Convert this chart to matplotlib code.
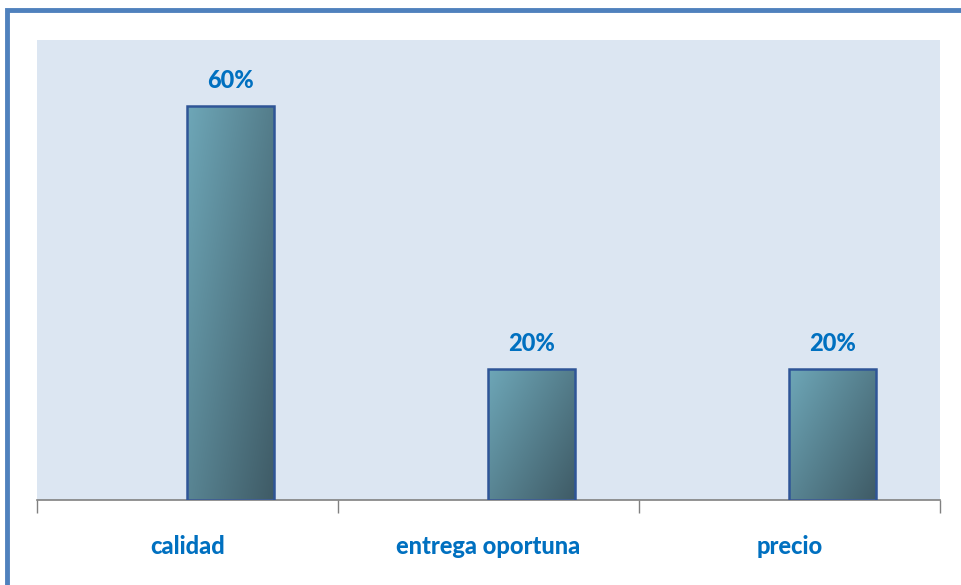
import numpy as np
import matplotlib.pyplot as plt
from matplotlib.patches import Rectangle
from matplotlib.colors import LinearSegmentedColormap

# Factores de decision
categorias = ['calidad', 'entrega oportuna', 'precio']
porcentajes = [0.60, 0.20, 0.20]
etiquetas = ['60%', '20%', '20%']

W, H = 962, 585
fig = plt.figure(figsize=(W / 100, H / 100), dpi=100)
fig.patch.set_facecolor('white')

# marco exterior del grafico (sale por la derecha y abajo)
fig.patches.append(Rectangle((7 / W, -0.1), 1.2, 1 - 10 / H + 0.1,
                             transform=fig.transFigure, fill=False,
                             edgecolor='#4f81bd', linewidth=3.5))

ax = fig.add_axes([37 / W, 1 - 500 / H, (940 - 37) / W, (500 - 40) / H])
ax.set_facecolor('#dce6f2')
ax.set_xlim(-0.5, len(categorias) - 0.5)
ax.set_ylim(0, 0.7)

grad = LinearSegmentedColormap.from_list('g', ['#6ea7b8', '#3f5b66'])
yy, xx = np.mgrid[0:1:200j, 0:1:200j]
img = (xx * 0.55 + yy * 0.45)

fuente = dict(fontsize=17, fontweight='black', color='#0070c0', family='Lato')

ancho = 0.286
x = np.arange(len(categorias))
# las barras arrancan en el centro de cada categoria
bars = ax.bar(x, porcentajes, width=ancho, align='edge', color='none',
              edgecolor='#2f5597', linewidth=1.8, zorder=3)
for b, v, t in zip(bars, porcentajes, etiquetas):
    x0 = b.get_x()
    im = ax.imshow(img, cmap=grad, extent=[x0, x0 + ancho, 0, v],
                   origin='upper', aspect='auto', zorder=2)
    im.set_clip_path(b)
    ax.text(x0 + ancho / 2, v + 0.038, t, ha='center', va='center', **fuente)

ax.set_xticks(np.arange(-0.5, len(categorias)))
ax.set_xticklabels([])
ax.set_xticks(x, minor=True)
ax.set_xticklabels(categorias, minor=True, **fuente)
ax.tick_params(axis='x', which='major', length=9, color='#808080', width=1)
ax.tick_params(axis='x', which='minor', length=0, pad=25)
ax.set_yticks([])
for s in ['top', 'right', 'left']:
    ax.spines[s].set_visible(False)
ax.spines['bottom'].set_color('#808080')
ax.spines['bottom'].set_linewidth(1.2)

fig.savefig('out.png', dpi=100)
